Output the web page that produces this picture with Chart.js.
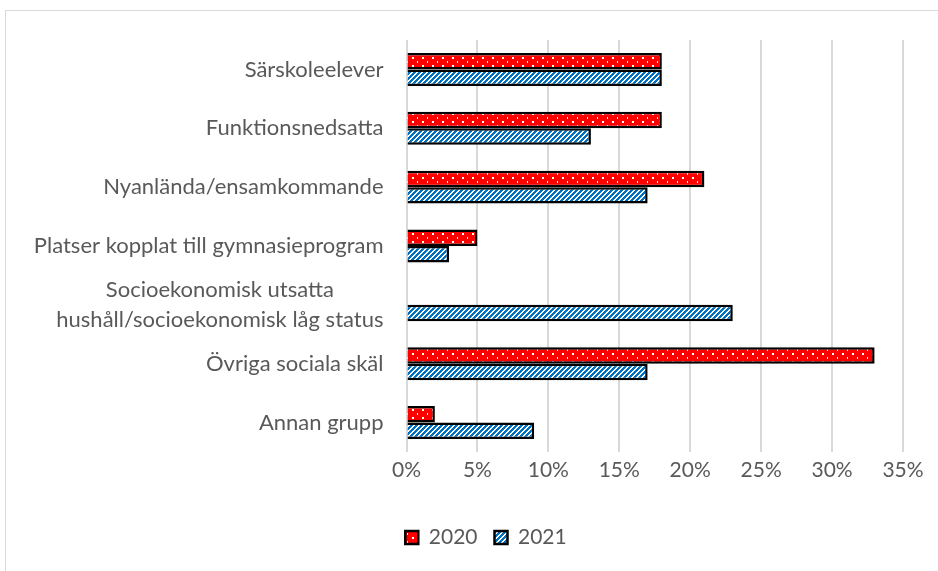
<!DOCTYPE html>
<html>
<head>
<meta charset="utf-8">
<script src="https://cdn.jsdelivr.net/npm/chart.js@4/dist/chart.umd.min.js"></script>
<style>
  html, body { margin: 0; padding: 0; background: #fff; overflow: hidden; }
  #wrap { position: relative; width: 938px; height: 571px; }
  #frame { position: absolute; left: 5px; top: 10px; width: 1000px; height: 700px; border: 1px solid #d9d9d9; box-sizing: border-box; }
  canvas { position: absolute; left: 0; top: 0; }
</style>
</head>
<body>
<div id="wrap">
  <div id="frame"></div>
  <canvas id="chart" width="938" height="571"></canvas>
</div>
<script>
/* Horizontal grouped bars, 2020 vs 2021, Excel-like patterned fills. */

const categories = [
  "Särskoleelever",
  "Funktionsnedsatta",
  "Nyanlända/ensamkommande",
  "Platser kopplat till gymnasieprogram",
  ["Socioekonomisk utsatta", "hushåll/socioekonomisk låg status"],
  "Övriga sociala skäl",
  "Annan grupp",
];
const values2020 = [18, 18, 21, 5, null, 33, 2];
const values2021 = [18, 13, 17, 3, 23, 17, 9];
const seriesNames = ["2020", "2021"];
const xTicks = [0, 5, 10, 15, 20, 25, 30, 35];

const TEXT = "#595959";
const GRID = "#d9d9d9";
const FONT = "Lato";

// red with sparse white dots
function dotPattern() {
  const c = document.createElement("canvas");
  c.width = 10; c.height = 8;
  const g = c.getContext("2d");
  g.fillStyle = "#ff0000";
  g.fillRect(0, 0, 10, 8);
  g.fillStyle = "#ffffff";
  g.fillRect(2, 1, 2, 2);
  g.fillRect(7, 5, 1, 2);
  return g.createPattern(c, "repeat");
}

// blue / white upward diagonal stripes
function stripePattern() {
  const c = document.createElement("canvas");
  c.width = 10; c.height = 10;
  const g = c.getContext("2d");
  for (let x = 0; x < 10; x++) {
    for (let y = 0; y < 10; y++) {
      g.fillStyle = (x + y) % 5 < 3 ? "#0070c0" : "#ffffff";
      g.fillRect(x, y, 1, 1);
    }
  }
  return g.createPattern(c, "repeat");
}

const yLabels = {
  id: "yLabels",
  afterDraw(chart) {
    const { ctx, chartArea, scales } = chart;
    const right = chartArea.left - 23;
    ctx.save();
    ctx.font = `22px ${FONT}`;
    ctx.fillStyle = TEXT;
    ctx.textBaseline = "middle";
    categories.forEach((lab, i) => {
      const cy = scales.y.getPixelForValue(i);
      if (Array.isArray(lab)) {
        const w = Math.max(...lab.map((l) => ctx.measureText(l).width));
        ctx.textAlign = "center";
        lab.forEach((l, j) => {
          ctx.fillText(l, right - w / 2, cy + (j - (lab.length - 1) / 2) * 30);
        });
      } else {
        ctx.textAlign = "right";
        ctx.fillText(lab, right, cy);
      }
    });
    ctx.restore();
  },
};

new Chart(document.getElementById("chart"), {
  type: "bar",
  data: {
    labels: categories,
    datasets: [
      { label: seriesNames[0], data: values2020, backgroundColor: dotPattern(), borderColor: "#000", borderWidth: 2.5 },
      { label: seriesNames[1], data: values2021, backgroundColor: stripePattern(), borderColor: "#000", borderWidth: 2.5 },
    ],
  },
  options: {
    indexAxis: "y",
    responsive: false,
    animation: false,
    devicePixelRatio: 1,
    categoryPercentage: 0.56,
    barPercentage: 1,
    layout: { padding: { top: 40, right: 35, left: 69, bottom: 13 } },
    scales: {
      x: {
        min: 0,
        max: 35,
        afterBuildTicks: (s) => { s.ticks = xTicks.map((v) => ({ value: v })); },
        afterFit: (s) => { s.height = 58; },
        grid: { color: GRID, lineWidth: 2, drawTicks: false },
        border: { display: false },
        ticks: { color: TEXT, font: { family: FONT, size: 21 }, padding: 6, callback: (v) => v + "%" },
      },
      y: {
        afterFit: (s) => { s.width = 337.5; },
        grid: { display: false },
        border: { display: false },
        ticks: { display: false },
      },
    },
    plugins: {
      tooltip: { enabled: false },
      legend: {
        position: "bottom",
        labels: { color: TEXT, font: { family: FONT, size: 21 }, boxWidth: 13, boxHeight: 13, padding: 17 },
      },
    },
  },
  plugins: [yLabels],
});
</script>
</body>
</html>
